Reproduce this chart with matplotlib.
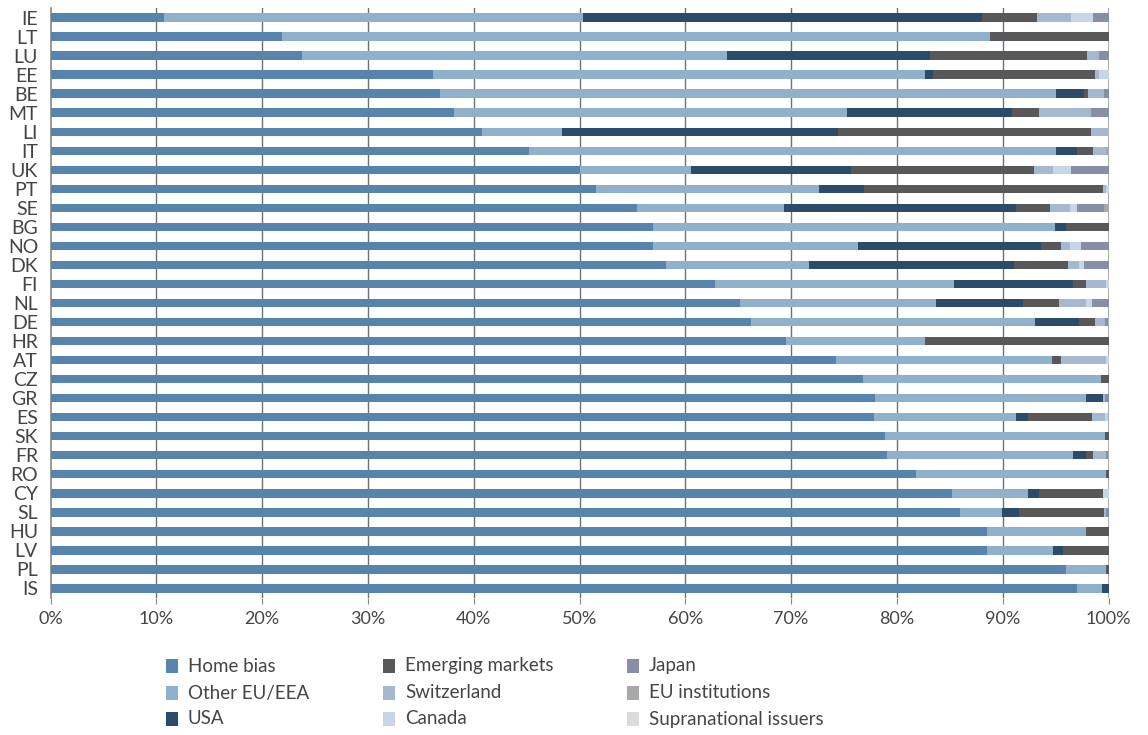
import matplotlib
matplotlib.use("Agg")
import matplotlib.pyplot as plt
from matplotlib.patches import Rectangle
import numpy as np

plt.rcParams['font.family'] = ['Lato', 'DejaVu Sans']

countries = ["IE", "LT", "LU", "EE", "BE", "MT", "LI", "IT", "UK", "PT",
             "SE", "BG", "NO", "DK", "FI", "NL", "DE", "HR", "AT", "CZ",
             "GR", "ES", "SK", "FR", "RO", "CY", "SL", "HU", "LV", "PL", "IS"]

home_bias = [10.7, 21.9, 23.8, 36.2, 36.8, 38.1, 40.8, 45.2, 50.0, 51.6,
             55.4, 56.9, 56.9, 58.2, 62.8, 65.2, 66.2, 69.5, 74.2, 76.8,
             77.9, 77.8, 78.9, 79.1, 81.8, 85.2, 86.0, 88.5, 88.5, 96.0, 97.0]
other_eu = [39.6, 66.9, 40.1, 46.5, 58.2, 37.2, 7.5, 49.8, 10.5, 21.0,
            13.9, 38.0, 19.4, 13.5, 22.6, 18.5, 26.9, 13.2, 20.5, 22.5,
            20.0, 13.5, 20.8, 17.5, 18.0, 7.2, 3.9, 9.4, 6.3, 3.8, 2.4]
usa = [37.7, 0.0, 19.2, 0.7, 2.7, 15.6, 26.1, 2.0, 15.2, 4.3,
       22.0, 1.1, 17.3, 19.4, 11.2, 8.2, 4.1, 0.0, 0.0, 0.0,
       1.6, 1.1, 0.0, 1.3, 0.0, 1.0, 1.6, 0.0, 0.9, 0.0, 0.6]
emerging = [5.2, 11.2, 14.9, 15.3, 0.4, 2.5, 23.9, 1.5, 17.3, 22.6,
            3.2, 4.0, 1.9, 5.1, 1.3, 3.4, 1.5, 17.3, 0.8, 0.7,
            0.0, 6.0, 0.3, 0.6, 0.2, 6.1, 8.1, 2.1, 4.3, 0.2, 0.0]
switzerland = [3.3, 0.0, 1.1, 0.4, 1.5, 4.9, 1.7, 1.3, 1.8, 0.3,
               1.9, 0.0, 0.9, 1.0, 1.9, 2.6, 1.0, 0.0, 4.3, 0.0,
               0.2, 1.3, 0.0, 1.3, 0.0, 0.0, 0.2, 0.0, 0.0, 0.0, 0.0]
canada = [2.0, 0.0, 0.0, 0.9, 0.0, 0.0, 0.0, 0.0, 1.7, 0.2,
          0.6, 0.0, 1.0, 0.5, 0.2, 0.5, 0.0, 0.0, 0.2, 0.0,
          0.0, 0.3, 0.0, 0.0, 0.0, 0.5, 0.0, 0.0, 0.0, 0.0, 0.0]
japan = [1.5, 0.0, 0.9, 0.0, 0.4, 1.7, 0.0, 0.0, 3.5, 0.0,
         2.6, 0.0, 2.6, 2.3, 0.0, 1.6, 0.3, 0.0, 0.0, 0.0,
         0.3, 0.0, 0.0, 0.2, 0.0, 0.0, 0.2, 0.0, 0.0, 0.0, 0.0]
eu_institutions = [0.0, 0.0, 0.0, 0.0, 0.0, 0.0, 0.0, 0.2, 0.0, 0.0,
                   0.4, 0.0, 0.0, 0.0, 0.0, 0.0, 0.0, 0.0, 0.0, 0.0,
                   0.0, 0.0, 0.0, 0.0, 0.0, 0.0, 0.0, 0.0, 0.0, 0.0, 0.0]
supranational = [0.0] * 31

series_names = ["Home bias", "Other EU/EEA", "USA", "Emerging markets",
                "Switzerland", "Canada", "Japan", "EU institutions",
                "Supranational issuers"]
series_colors = ["#5784ac", "#8fb1cc", "#2a4b69", "#58585a", "#a5b8cf",
                 "#c6d6e6", "#888ea5", "#a8a8aa", "#dcdcde"]
series_values = [home_bias, other_eu, usa, emerging, switzerland, canada,
                 japan, eu_institutions, supranational]

xticks = [0, 10, 20, 30, 40, 50, 60, 70, 80, 90, 100]
xtick_labels = ["0%", "10%", "20%", "30%", "40%", "50%", "60%", "70%",
                "80%", "90%", "100%"]

TEXT = "#454545"
W, H = 1148, 735
fig = plt.figure(figsize=(W / 100, H / 100), dpi=100)
ax = fig.add_axes([50.5 / W, 1 - 598 / H, (1108.5 - 50.5) / W, (598 - 8) / H])

n = len(countries)
y = np.arange(n)
left = np.zeros(n)
for name, col, vals in zip(series_names, series_colors, series_values):
    v = np.array(vals)
    ax.barh(y, v, left=left, height=0.44, color=col, label=name, zorder=3,
            linewidth=0)
    left += v

ax.set_xlim(0, 100)
ax.set_ylim(n - 0.5, -0.5)
ax.set_yticks(y)
ax.set_yticklabels(countries, fontsize=14, color=TEXT)
ax.set_xticks(xticks)
ax.set_xticklabels(xtick_labels, fontsize=13, color=TEXT)
ax.tick_params(axis="y", length=0, pad=9)
ax.tick_params(axis="x", length=4, width=0.8, color="#888888", pad=5)

for xv in xticks[1:-1]:
    ax.axvline(xv, color="#707070", lw=1.0, zorder=1)
ax.axvline(100, color="#aaaaaa", lw=1.4, zorder=1)

for s in ["top", "bottom", "right"]:
    ax.spines[s].set_visible(False)
ax.spines["left"].set_color("#888888")
ax.spines["left"].set_linewidth(1.2)

# legend (manual layout, 3 columns)
col_x = [166, 383, 627]
row_y = [666, 693, 719]
for i, (name, col) in enumerate(zip(series_names, series_colors)):
    c, r = divmod(i, 3)
    x0, yc = col_x[c], row_y[r]
    fig.patches.append(Rectangle((x0 / W, 1 - (yc + 7) / H), 12 / W, 14 / H,
                                 transform=fig.transFigure, facecolor=col,
                                 edgecolor="none"))
    fig.text((x0 + 22) / W, 1 - yc / H, name, fontsize=13.5, color=TEXT,
             va="center", ha="left")

fig.savefig("out.png", dpi=100)
